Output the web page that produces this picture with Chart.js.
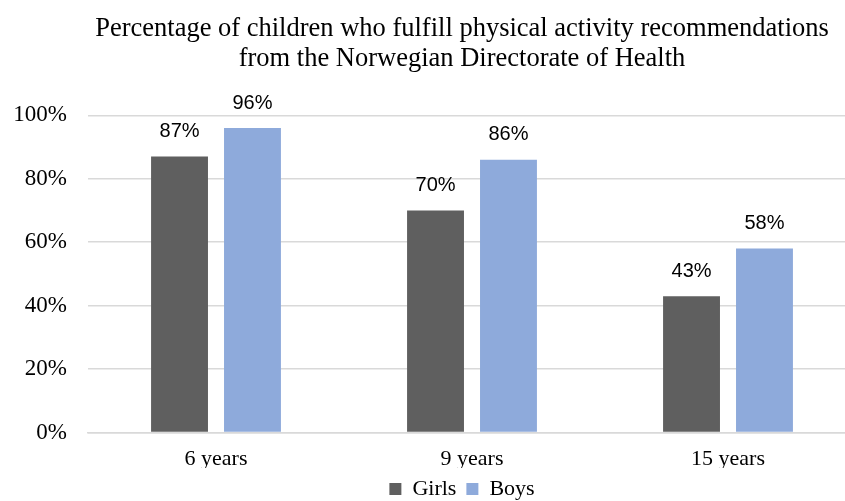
<!DOCTYPE html>
<html>
<head>
<meta charset="utf-8">
<script src="https://cdn.jsdelivr.net/npm/chart.js@4"></script>
<style>
  html, body { margin: 0; padding: 0; background: #fff; overflow: hidden; }
  #wrap { position: relative; width: 924px; height: 501px; }
</style>
</head>
<body>
<div id="wrap"><canvas id="activityChart"></canvas></div>
<script>
  // Share of children meeting activity recommendations, by age group
  const ageGroups = ['6 years', '9 years', '15 years'];
  const girls = [87, 70, 43];
  const boys = [96, 86, 58];
  const yTicks = [0, 20, 40, 60, 80, 100];

  const serif = '"Liberation Serif", "Times New Roman", serif';

  // value labels above each bar
  const barLabels = {
    id: 'barLabels',
    afterDatasetsDraw(chart) {
      const ctx = chart.ctx;
      ctx.save();
      ctx.font = '20px "Liberation Sans", Arial, sans-serif';
      ctx.fillStyle = '#000';
      ctx.textAlign = 'center';
      ctx.textBaseline = 'middle';
      chart.data.datasets.forEach((ds, i) => {
        chart.getDatasetMeta(i).data.forEach((bar, j) => {
          ctx.fillText(ds.data[j] + '%', bar.x, bar.y - 25);
        });
      });
      ctx.restore();
    }
  };

  const ctx = document.getElementById('activityChart').getContext('2d');
  new Chart(ctx, {
    type: 'bar',
    data: {
      labels: ageGroups,
      datasets: [
        { label: 'Girls', data: girls, backgroundColor: '#5f5f5f' },
        { label: 'Boys', data: boys, backgroundColor: '#8eaadb' }
      ]
    },
    options: {
      responsive: true,
      maintainAspectRatio: false,
      animation: false,
      datasets: { bar: { barPercentage: 0.78, categoryPercentage: 0.57 } },
      layout: { padding: { left: 0, right: 0, top: 14, bottom: -9 } },
      scales: {
        x: {
          afterFit(scale) { scale.height = 35.5; },
          grid: { display: false, drawTicks: false },
          border: { color: '#d9d9d9', width: 1.5 },
          ticks: {
            color: '#000',
            padding: 14,
            font: { family: serif, size: 22 }
          }
        },
        y: {
          min: 0,
          max: 100,
          afterBuildTicks(scale) { scale.ticks = yTicks.map(v => ({ value: v })); },
          afterFit(scale) { scale.width = 88; },
          grid: { color: '#d9d9d9', lineWidth: 1.5, drawTicks: false },
          border: { display: false },
          ticks: {
            color: '#000',
            padding: 21,
            callback: v => v + '%',
            font: { family: serif, size: 23 }
          }
        },
        // empty spacer on the right so the plot runs past the page edge
        pad: {
          type: 'linear',
          position: 'right',
          display: true,
          afterFit(scale) { scale.width = 68; },
          grid: { display: false, drawTicks: false },
          border: { display: false },
          ticks: { display: false }
        }
      },
      plugins: {
        title: {
          display: true,
          text: ['Percentage of children who fulfill physical activity recommendations',
                 'from the Norwegian Directorate of Health'],
          color: '#000',
          font: { family: serif, size: 26.5, weight: 'normal', lineHeight: 1.13 },
          padding: { top: 0, bottom: 41.5 }
        },
        legend: {
          position: 'bottom',
          labels: {
            color: '#000',
            boxWidth: 12,
            boxHeight: 12,
            padding: 10,
            font: { family: serif, size: 22 }
          }
        },
        tooltip: { enabled: false }
      }
    },
    plugins: [barLabels]
  });
</script>
</body>
</html>
